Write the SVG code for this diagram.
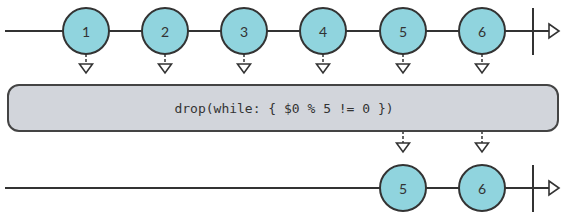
<svg xmlns="http://www.w3.org/2000/svg" width="567" height="218" viewBox="0 0 567 218">
<defs>
<style>
.line{stroke:#333;stroke-width:2;fill:none}
.dash{stroke:#333;stroke-width:1.5;stroke-dasharray:3,2;fill:none}
.tri{fill:#fff;stroke:#333;stroke-width:1.6;stroke-linejoin:miter}
.marble{fill:#90d4de;stroke:#333;stroke-width:2}
.lbl{font-family:Lato,"Open Sans",sans-serif;font-size:14px;fill:#333;text-anchor:middle;dominant-baseline:central}
.op{fill:#d2d5db;stroke:#444;stroke-width:2}
.optext{font-family:"DejaVu Sans Mono","Liberation Mono",monospace;font-size:13px;fill:#333;text-anchor:middle;dominant-baseline:central}
</style>
</defs>
<g id="connectors">
<line class="line" x1="5" y1="31" x2="549" y2="31"/>
<line class="line" x1="533" y1="8" x2="533" y2="55"/>
<polygon class="tri" points="549,24 559,31 549,38"/>
<line class="line" x1="5" y1="188" x2="549" y2="188"/>
<line class="line" x1="533" y1="165" x2="533" y2="212"/>
<polygon class="tri" points="549,181 559,188 549,195"/>
<g id="drops-in">
<line class="dash" x1="86" y1="54" x2="86" y2="64"/><polygon class="tri" points="79.5,64 92.5,64 86,73"/>
<line class="dash" x1="165" y1="54" x2="165" y2="64"/><polygon class="tri" points="158.5,64 171.5,64 165,73"/>
<line class="dash" x1="244" y1="54" x2="244" y2="64"/><polygon class="tri" points="237.5,64 250.5,64 244,73"/>
<line class="dash" x1="323" y1="54" x2="323" y2="64"/><polygon class="tri" points="316.5,64 329.5,64 323,73"/>
<line class="dash" x1="403" y1="54" x2="403" y2="64"/><polygon class="tri" points="396.5,64 409.5,64 403,73"/>
<line class="dash" x1="482" y1="54" x2="482" y2="64"/><polygon class="tri" points="475.5,64 488.5,64 482,73"/>
</g>
<g id="drops-out">
<line class="dash" x1="403" y1="131" x2="403" y2="143"/><polygon class="tri" points="396.5,143 409.5,143 403,152"/>
<line class="dash" x1="482" y1="131" x2="482" y2="143"/><polygon class="tri" points="475.5,143 488.5,143 482,152"/>
</g>
</g>
<g id="in-1"><circle class="marble" cx="86" cy="31" r="23"/><text class="lbl" x="86" y="31">1</text></g>
<g id="in-2"><circle class="marble" cx="165" cy="31" r="23"/><text class="lbl" x="165" y="31">2</text></g>
<g id="in-3"><circle class="marble" cx="244" cy="31" r="23"/><text class="lbl" x="244" y="31">3</text></g>
<g id="in-4"><circle class="marble" cx="323" cy="31" r="23"/><text class="lbl" x="323" y="31">4</text></g>
<g id="in-5"><circle class="marble" cx="403" cy="31" r="23"/><text class="lbl" x="403" y="31">5</text></g>
<g id="in-6"><circle class="marble" cx="482" cy="31" r="23"/><text class="lbl" x="482" y="31">6</text></g>
<g id="operator"><rect class="op" x="8" y="85" width="550" height="46" rx="11" ry="11"/><text class="optext" x="284" y="108">drop(while: { $0 % 5 != 0 })</text></g>
<g id="out-5"><circle class="marble" cx="403" cy="188" r="23"/><text class="lbl" x="403" y="188">5</text></g>
<g id="out-6"><circle class="marble" cx="482" cy="188" r="23"/><text class="lbl" x="482" y="188">6</text></g>
</svg>
